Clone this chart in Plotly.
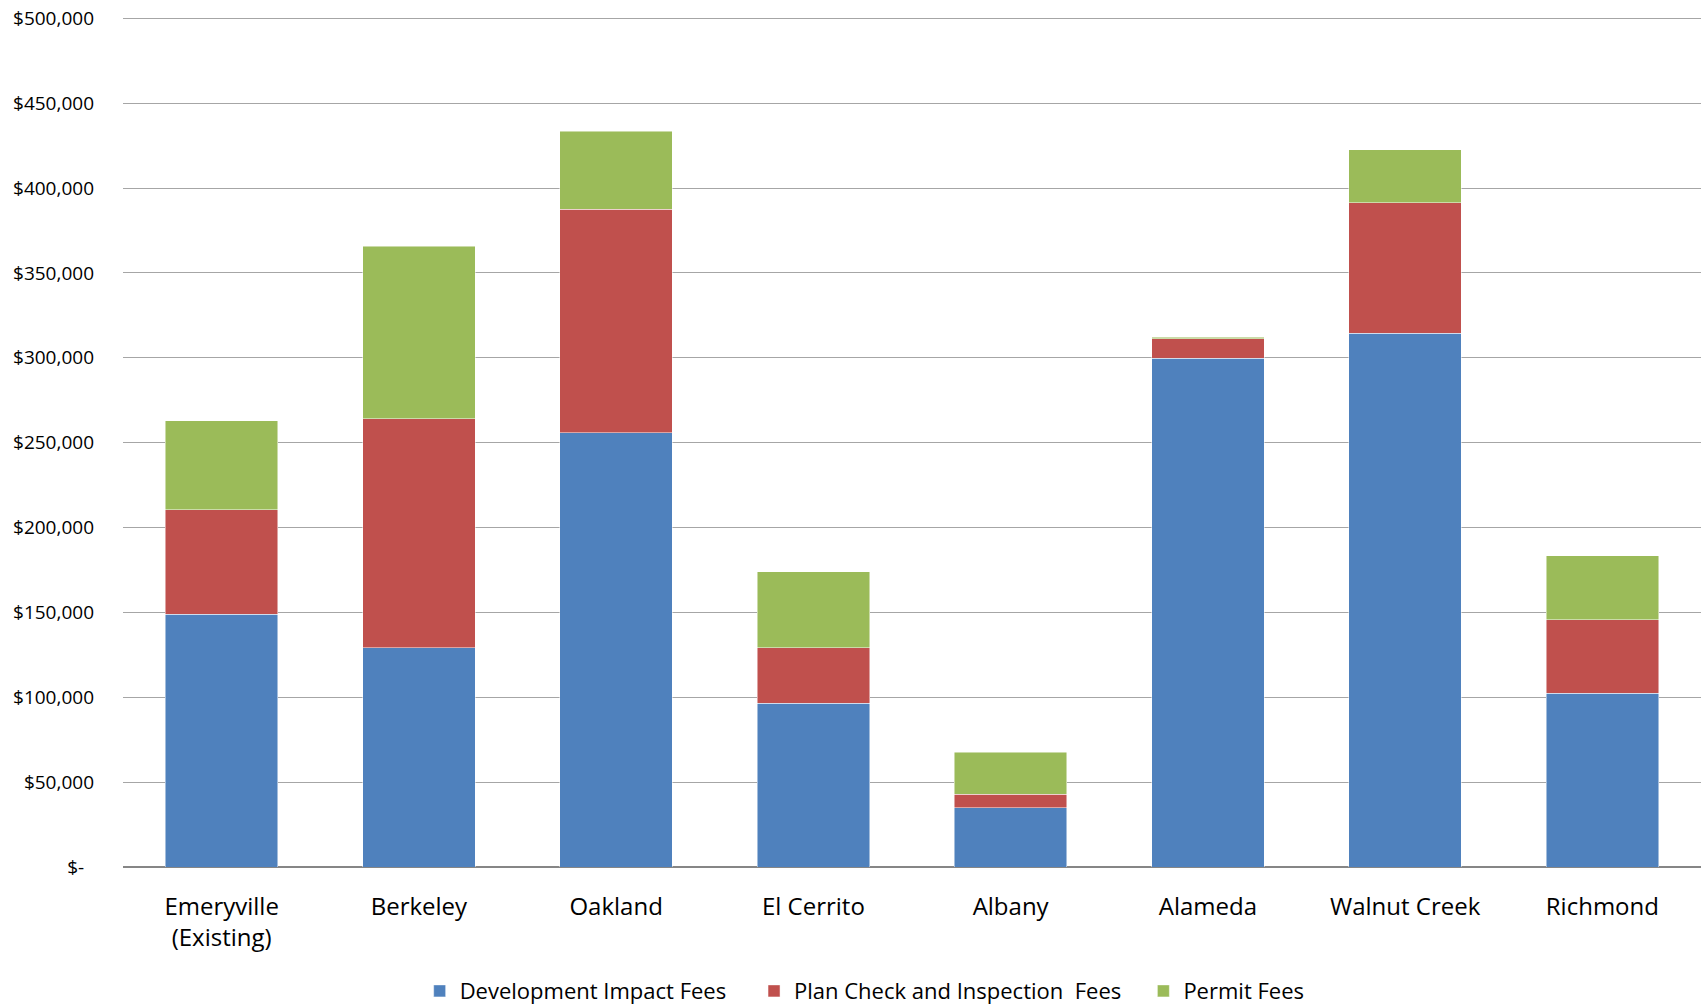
import plotly.graph_objects as go

cities = ["Emeryville<br>(Existing)", "Berkeley", "Oakland", "El Cerrito", "Albany",
          "Alameda", "Walnut Creek", "Richmond"]
development_impact = [149000, 129200, 255800, 96500, 35000, 299800, 314500, 102300]
plan_check = [61400, 134900, 131700, 32700, 8000, 11500, 76800, 43500]
permit = [52400, 101600, 46000, 44700, 24500, 800, 31300, 37700]

tick_vals = [0, 50000, 100000, 150000, 200000, 250000, 300000, 350000, 400000, 450000, 500000]
tick_text = ["$-\u00a0\u00a0", "$50,000", "$100,000", "$150,000", "$200,000", "$250,000",
             "$300,000", "$350,000", "$400,000", "$450,000", "$500,000"]

series = [
    ("Development Impact Fees\u00a0\u00a0\u00a0\u00a0", development_impact, "#4F81BD"),
    ("Plan Check and Inspection  Fees\u00a0\u00a0\u00a0", plan_check, "#C0504D"),
    ("Permit Fees", permit, "#9BBB59"),
]

fig = go.Figure()
for name, vals, color in series:
    fig.add_trace(go.Bar(
        x=cities, y=vals, name=name,
        marker=dict(color=color, line=dict(color="rgba(255,255,255,0.6)", width=0.8)),
    ))

fig.update_layout(
    barmode="stack",
    bargap=0.43,
    width=1701, height=1007,
    margin=dict(l=123, r=0, t=17, b=140, autoexpand=False),
    paper_bgcolor="white", plot_bgcolor="white",
    font=dict(family="Open Sans", color="black"),
    legend=dict(
        orientation="h", x=0.47, xanchor="center", y=-0.146, yanchor="middle",
        font=dict(size=22), itemwidth=30, traceorder="normal",
    ),
    xaxis=dict(
        tickfont=dict(size=24), showgrid=False, showline=False,
        ticklabelstandoff=23, automargin=False,
    ),
    yaxis=dict(
        range=[0, 500800], tickvals=tick_vals, ticktext=tick_text,
        tickfont=dict(size=19), showgrid=True, gridcolor="#A6A6A6", gridwidth=1,
        zeroline=True, zerolinecolor="#868686", zerolinewidth=2,
        ticklabelstandoff=28, showline=False, automargin=False,
    ),
)

fig.write_html("out.html")
